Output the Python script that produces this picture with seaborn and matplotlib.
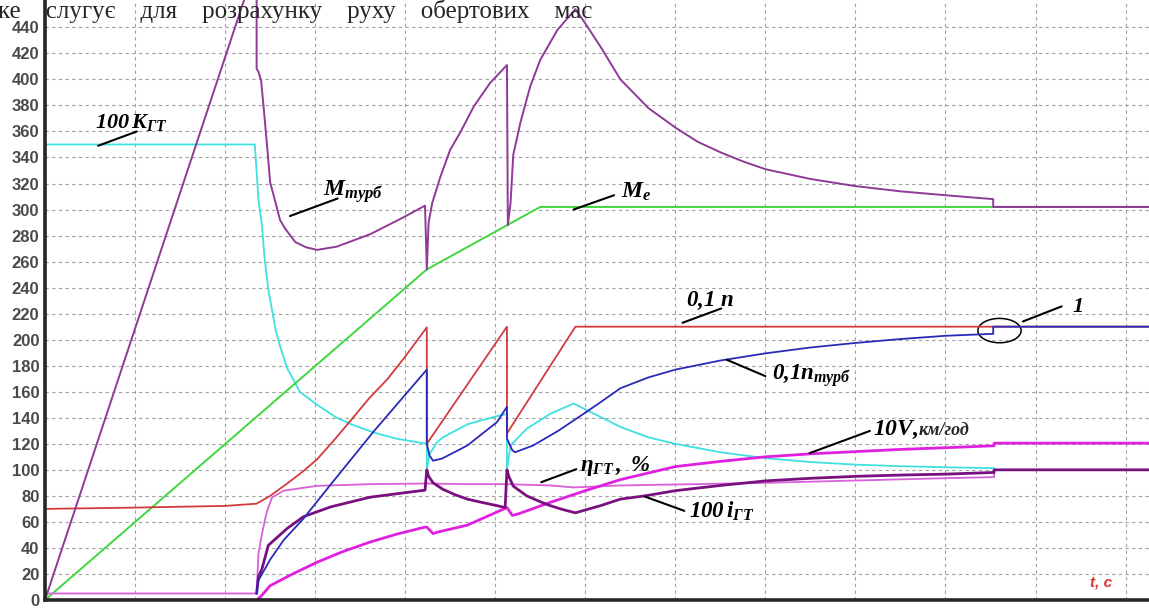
import numpy as np
import pandas as pd
import matplotlib
matplotlib.use("Agg")
import matplotlib.pyplot as plt
from matplotlib.patches import Ellipse
import seaborn as sns

# --- дані (t у поділках сітки) ---
t_mturb = [0, 2.35, 2.35, 2.37, 2.40, 2.43, 2.47, 2.50, 2.55, 2.61, 2.67, 2.78, 2.90, 3.02, 3.24,
           3.61, 3.98, 4.22, 4.24, 4.26, 4.30, 4.39, 4.50, 4.61, 4.76, 4.94, 5.13, 5.14, 5.17,
           5.20, 5.28, 5.39, 5.50, 5.69, 5.89, 6.0, 6.17, 6.39, 6.7, 7.0, 7.25, 7.5, 7.75, 8.0,
           8.5, 9.0, 9.5, 10.0, 10.53, 10.53, 12.3]
v_mturb = [0, 490, 408, 406, 399, 377, 346, 321, 308, 292, 285, 275, 271, 269, 271.5,
           281, 294, 303, 254, 290, 305, 325, 346, 359, 379, 397, 411, 288, 305,
           342, 367, 395, 415, 438, 454, 443, 425, 400, 378, 363, 352, 344, 337, 331,
           323.5, 318, 314, 311, 308, 302, 302]

t_me = [0, 4.24, 5.5, 12.3]
v_me = [0, 254, 302, 302]

t_n = [0, 1.0, 2.0, 2.35, 2.5, 2.68, 2.85, 3.02, 3.2, 3.42, 3.6, 3.8, 4.0, 4.24, 4.24, 5.13,
       5.13, 5.89, 12.3]
v_n = [70, 71, 72.3, 74, 80, 89, 98, 108, 122, 140, 155, 169.5, 187, 209.5, 120, 210,
       128, 210, 210]

t_nturb = [2.35, 2.37, 2.5, 2.65, 2.87, 3.17, 3.65, 4.24, 4.24, 4.27, 4.31, 4.41, 4.69, 5.02,
           5.13, 5.13, 5.19, 5.22, 5.42, 5.7, 5.98, 6.17, 6.39, 6.7, 7.0, 7.5, 8.0, 8.5, 9.0,
           9.5, 10.0, 10.53, 10.53, 12.3]
v_nturb = [5, 15, 31, 46, 62.5, 88.5, 129.5, 177, 120, 111, 107, 108.7, 118.7, 136.7,
           148.5, 124, 115, 113.5, 118.7, 130, 143, 152, 162.7, 171, 177, 184, 189.5, 194, 197.5,
           200.5, 203, 204.5, 210, 210]

t_k = [0, 2.33, 2.35, 2.37, 2.41, 2.44, 2.48, 2.50, 2.56, 2.61, 2.69, 2.83, 3.02, 3.24, 3.4,
       3.65, 3.9, 4.24, 4.24, 4.27, 4.35, 4.42, 4.69, 5.02, 5.13, 5.13, 5.17, 5.35, 5.61, 5.87,
       6.17, 6.39, 6.7, 7.0, 7.5, 8.0, 8.5, 9.0, 9.5, 10.0, 10.54, 10.54, 12.3]
v_k = [350, 350, 329, 308, 287, 261.5, 238.5, 231, 208, 195, 178, 160, 150, 140, 135,
       128.7, 124, 120, 100, 112, 121, 125, 135, 141.3, 143, 100, 118.7, 131.6, 143, 151,
       140.6, 133, 125, 120, 113.5, 109, 106, 104, 102.8, 102, 101.3, 100, 100]

t_v = [2.35, 2.4, 2.5, 2.75, 3.02, 3.3, 3.61, 3.9, 4.22, 4.24, 4.31, 4.35, 4.69, 5.13, 5.19,
       5.25, 5.61, 6.0, 6.39, 7.0, 7.5, 8.0, 8.5, 9.0, 9.5, 10.0, 10.54, 10.54, 12.3]
v_v = [0, 3, 11, 20, 29, 37, 44.5, 50.5, 56, 56, 51, 52, 57.5, 71, 65,
       66, 75, 84, 92.5, 102.5, 106.5, 110, 112.3, 114, 115.7, 117, 118.5, 120.5, 120.5]

t_eta = [0, 2.35, 2.37, 2.41, 2.46, 2.52, 2.65, 3.02, 3.61, 4.22, 4.69, 5.13, 5.61, 5.87, 6.39,
         8.0, 10.0, 10.54, 10.54, 12.3]
v_eta = [5, 5, 35.6, 51, 67, 78.7, 84, 87.7, 89, 89.5, 89, 89, 88, 86.5, 88,
         90, 93.6, 94.4, 100, 100]

t_i = [2.35, 2.37, 2.41, 2.48, 2.69, 2.87, 3.17, 3.61, 4.22, 4.24, 4.26, 4.31, 4.42, 4.55, 4.69,
       4.85, 5.02, 5.11, 5.13, 5.15, 5.20, 5.35, 5.5, 5.61, 5.75, 5.89, 6.17, 6.39, 6.66, 7.0,
       7.5, 8.0, 8.5, 9.0, 9.5, 10.0, 10.54, 10.54, 12.3]
v_i = [5, 17.7, 24, 42, 55, 64, 71.5, 79, 84.4, 100, 95, 90, 85, 81, 77.5,
       75, 72.5, 71, 100, 95, 87.5, 80, 75.5, 72.5, 69.5, 67, 72.5, 77.5, 80, 84,
       88, 91.5, 93.5, 95, 96, 96.7, 98, 100, 100]

y_ticks = list(range(0, 441, 20))

sns.set_style("white")
plt.rcParams["mathtext.fontset"] = "custom"
plt.rcParams["mathtext.rm"] = "Liberation Serif:bold:italic"
plt.rcParams["mathtext.it"] = "Liberation Serif:bold:italic"
plt.rcParams["mathtext.bf"] = "Liberation Serif:bold:italic"

fig = plt.figure(figsize=(11.49, 6.09), dpi=100)
ax = fig.add_axes([45 / 1149, 9 / 609, 1104 / 1149, 600 / 609])

series = [
    (t_k, v_k, "#3ee0e0", 1.3),
    (t_me, v_me, "#3fd63f", 1.4),
    (t_n, v_n, "#d23c3c", 1.3),
    (t_eta, v_eta, "#d860d8", 1.3),
    (t_v, v_v, "#e020e0", 2.0),
    (t_i, v_i, "#7a1080", 2.0),
    (t_nturb, v_nturb, "#2a2ab8", 1.3),
    (t_mturb, v_mturb, "#8e3a96", 1.4),
]
for tt, vv, col, lw in series:
    df = pd.DataFrame({"t": tt, "v": vv})
    sns.lineplot(data=df, x="t", y="v", estimator=None, sort=False,
                 color=col, lw=lw, ax=ax)

ax.set_xlim(0, 12.26)
ax.set_ylim(0, 461)
ax.set_xticks(np.arange(0, 13, 1))
ax.set_xticks(np.arange(0, 12.3, 0.1), minor=True)
ax.set_xticklabels([])
ax.set_yticks(y_ticks)
ax.set_yticklabels([str(y) for y in y_ticks], fontsize=12, fontweight="bold",
                   color="#4a4a4a", family="Liberation Sans")
ax.tick_params(axis="y", length=0, pad=4)
ax.tick_params(axis="x", which="major", length=4, direction="out", width=1)
ax.tick_params(axis="x", which="minor", length=3, direction="out", width=0.8)
ax.grid(True, color="#a0a0a0", linestyle=(0, (3, 3)), lw=0.8)
ax.set_axisbelow(True)
ax.set_xlabel("")
ax.set_ylabel("")
for side in ["top", "right"]:
    ax.spines[side].set_visible(False)
ax.spines["left"].set_linewidth(2.6)
ax.spines["bottom"].set_linewidth(2.6)
ax.spines["left"].set_zorder(5)
ax.spines["bottom"].set_zorder(5)

# підписи кривих
labels = [
    (0.55, 363, r"$100\,K_{ГТ}$", 16, (0.59, 349), (1.02, 360)),
    (3.09, 311, r"$M_{турб}$", 17, (2.72, 295), (3.25, 308.5)),
    (6.40, 309, r"$M_{e}$", 17, (5.87, 300), (6.32, 311)),
    (7.12, 226, r"$0{,}1\ n$", 16.5, (7.08, 213), (7.51, 224)),
    (8.07, 169, r"$0{,}1n_{турб}$", 16.5, (7.57, 184.6), (8.0, 172)),
    (11.41, 221, r"$1$", 16, (10.86, 214), (11.29, 225.6)),
    (9.20, 127, r"$10V,$", 17, (8.49, 112.8), (9.16, 129.9)),
    (5.94, 99, r"$\eta_{ГТ}\,,\ \%$", 16.5, (5.51, 90.5), (5.90, 100.5)),
    (7.15, 63, r"$100\,i_{ГТ}$", 16.5, (6.66, 79.5), (7.10, 68.5)),
]
for x, y, txt, fs, p1, p2 in labels:
    ax.text(x, y, txt, fontsize=fs, color="black", va="baseline", ha="left")
    ax.plot([p1[0], p2[0]], [p1[1], p2[1]], color="black", lw=1.5)
ax.text(9.70, 127, "км/год", fontsize=13, fontweight="bold", fontstyle="italic",
        family="Liberation Serif", va="baseline", ha="left")

ax.add_patch(Ellipse((10.6, 207), 0.48, 18.7, fill=False, edgecolor="black", lw=1.1))

ax.text(11.6, 10, "t, c", color="#e03030", fontsize=11, fontweight="bold",
        fontstyle="italic", family="Liberation Sans", va="baseline")

fig.text(-2 / 1149, 1 - 18 / 609, "ке    слугує    для    розрахунку    руху    обертових    мас",
         fontsize=18, family="Liberation Serif", va="baseline", ha="left", zorder=10)

fig.savefig("out.png", dpi=100)
